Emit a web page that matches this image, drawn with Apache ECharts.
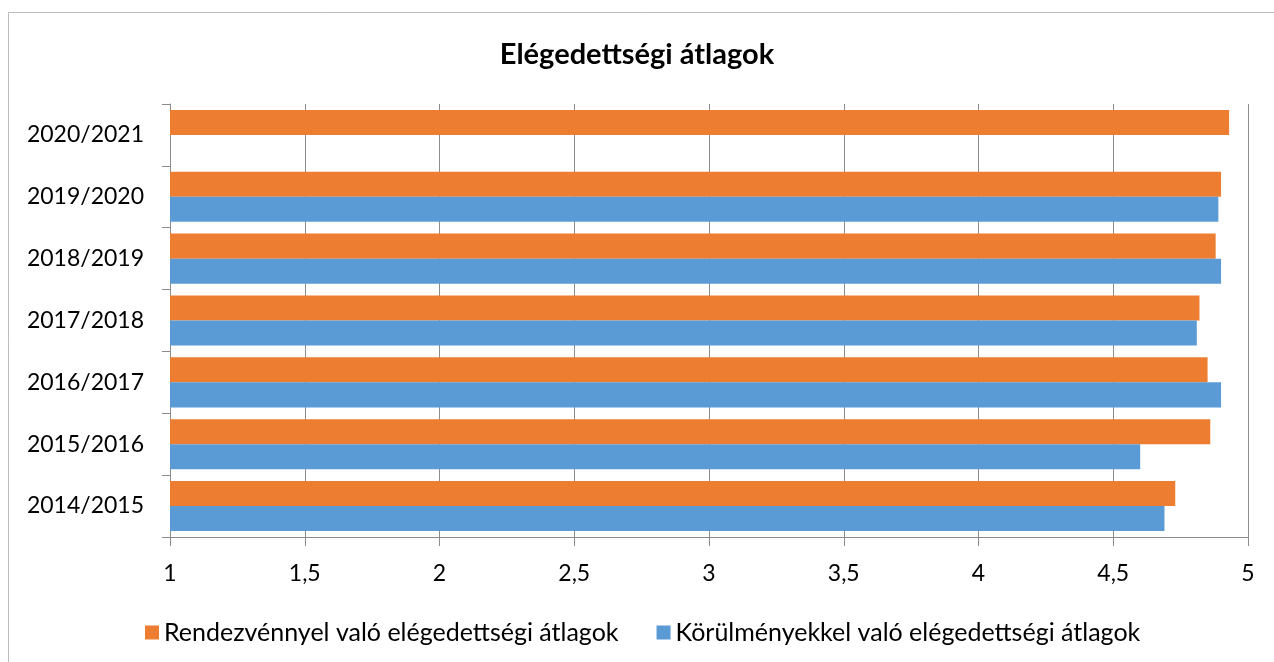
<!DOCTYPE html>
<html lang="hu">
<head>
    <meta charset="UTF-8">
    <title>Elégedettségi átlagok</title>
    <script src="https://cdn.jsdelivr.net/npm/echarts@6/dist/echarts.min.js"></script>
    <style>
        html, body { margin: 0; padding: 0; background: #fff; }
    </style>
</head>

<body>
    <div id="mainChart" style="width: 1274px; height: 662px;"></div>
    <script>
        // adatok (alulról felfelé)
        let years = ['2014/2015', '2015/2016', '2016/2017', '2017/2018', '2018/2019', '2019/2020', '2020/2021']
        let rendezveny = [4.73, 4.86, 4.85, 4.82, 4.88, 4.90, 4.93]
        let korulmenyek = [4.69, 4.60, 4.90, 4.81, 4.90, 4.89, null]
        let nameRendezveny = 'Rendezvénnyel való elégedettségi átlagok'
        let nameKorulmenyek = 'Körülményekkel való elégedettségi átlagok'

        let font = 'Lato, "Open Sans", sans-serif'
        let lineColor = '#8c8c8c'

        let chartsData = {
            animation: false,
            textStyle: { fontFamily: font },
            title: {
                text: 'Elégedettségi átlagok',
                left: 'center',
                top: 35,
                textStyle: { fontFamily: font, fontSize: 29, fontWeight: 'bold', color: '#000' }
            },
            graphic: [{
                type: 'rect',
                shape: { x: 8.5, y: 12.5, width: 1400, height: 800 },
                style: { fill: 'none', stroke: '#bcbcbc', lineWidth: 1 },
                silent: true
            }],
            legend: {
                data: [nameRendezveny, nameKorulmenyek],
                left: 140,
                top: 615,
                icon: 'rect',
                itemWidth: 14,
                itemHeight: 14,
                itemGap: 38,
                textStyle: { fontFamily: font, fontSize: 25, color: '#000' }
            },
            grid: {
                left: 170,
                right: 26,
                top: 104,
                bottom: 125,
                containLabel: false
            },
            xAxis: {
                type: 'value',
                min: 1,
                max: 5,
                interval: 0.5,
                axisLine: { show: true, lineStyle: { color: lineColor, width: 1 } },
                axisTick: { show: true, length: 9, lineStyle: { color: lineColor } },
                axisLabel: {
                    margin: 25,
                    fontSize: 23,
                    color: '#000',
                    fontFamily: font,
                    formatter: function (v) { return String(v).replace('.', ',') }
                },
                splitLine: { show: true, lineStyle: { color: lineColor, width: 1 } }
            },
            yAxis: {
                type: 'category',
                data: years,
                axisLine: { show: true, lineStyle: { color: lineColor, width: 1 } },
                axisTick: { show: true, length: 8, lineStyle: { color: lineColor } },
                axisLabel: { margin: 26, fontSize: 23, color: '#000', fontFamily: font }
            },
            series: [
                {
                    type: 'bar',
                    name: nameRendezveny,
                    data: rendezveny,
                    barGap: '0%',
                    barCategoryGap: '19%',
                    itemStyle: { color: '#ed7d31' }
                },
                {
                    type: 'bar',
                    name: nameKorulmenyek,
                    data: korulmenyek,
                    barGap: '0%',
                    barCategoryGap: '19%',
                    itemStyle: { color: '#5b9bd5' }
                }
            ]
        }

        let charts = echarts.init(document.querySelector('#mainChart'))
        charts.setOption(chartsData, true)
    </script>
</body>

</html>
